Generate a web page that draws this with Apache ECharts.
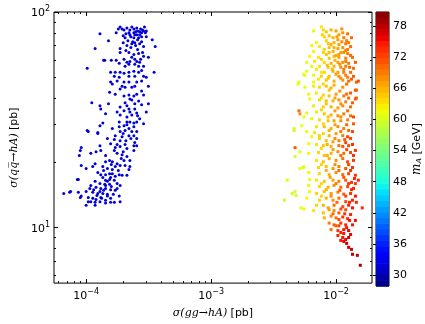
<!DOCTYPE html>
<html><head><meta charset="utf-8">
<script src="https://cdn.jsdelivr.net/npm/echarts@6/dist/echarts.min.js"></script>
<style>html,body{margin:0;padding:0;background:#fff}#c{width:425px;height:324px}</style>
</head><body><div id="c"></div>
<script>
// ---- data: [sigma(gg->hA) pb, sigma(qq->hA) pb, m_A GeV]
const lowMassPoints = [
[1.87e-4,85.3,32],[1.94e-4,83.5,32],[1.81e-4,83.5,32],[2.32e-4,85.3,32],[2.54e-4,84.4,32],[2.73e-4,83.5,32],[2.93e-4,85.3,32],
[2.68e-4,80.9,32],[2.88e-4,81.7,32],[3.03e-4,81.7,32],[2.49e-4,80.9,32],[2.41e-4,80.1,32],[2.20e-4,80.1,32],[2.08e-4,79.2,32],
[2.24e-4,78.4,32],[2.54e-4,78.4,32],[2.68e-4,78.4,32],[2.78e-4,80.1,32],[1.74e-4,80.1,32],[1.29e-4,79.2,32],[2.05e-4,76.0,32],
[2.41e-4,76.0,32],[2.63e-4,76.0,32],[3.03e-4,76.8,32],[3.38e-4,74.4,32],[1.51e-4,73.6,32],[1.98e-4,72.1,32],[2.32e-4,71.3,32],
[2.45e-4,72.1,32],[2.78e-4,72.8,32],[2.12e-4,69.9,32],[2.88e-4,69.1,32],[3.57e-4,69.1,32],[1.18e-4,67.7,32],[1.87e-4,67.7,32],
[1.87e-4,64.9,32],[2.20e-4,64.9,32],[2.41e-4,63.5,32],[2.63e-4,64.2,32],[2.88e-4,62.3,32],[3.15e-4,61.6,32],[1.41e-4,59.7,32],
[1.59e-4,59.7,32],[1.74e-4,59.7,32],[2.01e-4,60.3,32],[2.24e-4,59.0,32],[2.54e-4,59.0,32],[2.73e-4,60.3,32],[2.20e-4,57.2,32],
[2.45e-4,57.2,32],[2.63e-4,56.0,32],[2.88e-4,56.0,32],[1.84e-4,57.8,32],[2.05e-4,56.0,32],[1.02e-4,54.8,32],[1.57e-4,52.5,32],
[1.71e-4,52.5,32],[1.87e-4,52.5,32],[2.01e-4,52.0,32],[2.20e-4,52.5,32],[2.41e-4,53.1,32],[2.63e-4,52.5,32],[2.78e-4,53.6,32],
[3.50e-4,52.5,32],[1.68e-4,50.3,32],[1.84e-4,49.8,32],[2.20e-4,50.3,32],[2.45e-4,50.3,32],[2.88e-4,50.3,32],[3.03e-4,49.8,32],
[1.57e-4,47.3,32],[1.77e-4,47.8,32],[2.01e-4,47.3,32],[2.20e-4,47.3,32],[2.54e-4,47.3,32],[2.78e-4,47.8,32],[3.15e-4,45.3,32],
[1.62e-4,46.3,32],[1.94e-4,45.3,32],[2.05e-4,44.8,32],[2.32e-4,44.8,32],[2.45e-4,45.3,32],[1.87e-4,43.9,32],
[1.54e-4,42.5,32],[1.71e-4,41.6,32],[2.01e-4,40.8,32],[2.20e-4,41.2,32],[2.41e-4,40.8,32],[2.54e-4,41.6,32],[2.78e-4,43.0,32],
[2.88e-4,41.2,32],[2.24e-4,39.5,32],[2.63e-4,38.7,32],[1.11e-4,37.9,32],[1.29e-4,36.7,32],[1.51e-4,37.5,32],[1.87e-4,36.3,32],
[2.12e-4,36.7,32],[2.45e-4,37.5,32],[2.78e-4,37.1,32],[3.15e-4,37.5,32],[1.31e-4,35.5,32],[1.77e-4,34.4,32],[2.01e-4,34.8,32],
[2.24e-4,34.4,32],[2.54e-4,34.0,32],[3.03e-4,34.4,32],[1.43e-4,33.7,32],[1.87e-4,33.3,32],[2.12e-4,32.6,32],[2.68e-4,32.0,32],
[2.12e-4,30.9,32],[2.24e-4,30.9,32],[2.41e-4,30.6,32],[2.54e-4,30.9,32],[1.84e-4,30.9,32],[1.36e-4,30.6,32],[2.88e-4,30.3,32],
[1.29e-4,29.7,32],[1.84e-4,29.4,32],[2.01e-4,29.7,32],[1.62e-4,28.8,32],[1.87e-4,27.9,32],[2.05e-4,28.2,32],[2.32e-4,27.9,32],
[2.54e-4,27.9,32],[1.04e-4,27.9,32],[1.24e-4,27.3,32],[1.71e-4,26.7,32],[1.94e-4,26.4,32],[2.20e-4,26.7,32],[2.41e-4,26.7,32],
[1.48e-4,25.9,32],[1.68e-4,25.6,32],[1.87e-4,25.3,32],[2.08e-4,25.3,32],[2.54e-4,25.9,32],[1.57e-4,24.5,32],[1.77e-4,24.3,32],
[2.05e-4,24.3,32],[2.41e-4,24.0,32],[2.54e-4,24.0,32],[1.29e-4,24.0,32],[1.71e-4,23.5,32],[9.14e-5,23.5,32],
[8.98e-5,22.8,32],[1.09e-4,22.1,32],[1.20e-4,22.5,32],[1.31e-4,22.8,32],[1.43e-4,21.6,32],[1.68e-4,22.8,32],[1.77e-4,22.1,32],
[1.94e-4,21.8,32],[2.12e-4,21.4,32],[2.41e-4,22.8,32],[2.24e-4,20.5,32],[1.43e-4,20.2,32],[1.54e-4,20.5,32],[1.62e-4,20.2,32],
[1.77e-4,19.8,32],[1.87e-4,19.4,32],[2.05e-4,19.4,32],[9.14e-5,19.4,32],[1.13e-4,19.2,32],[1.36e-4,19.2,32],[1.48e-4,18.8,32],
[1.62e-4,18.6,32],[2.20e-4,18.6,32],[1.24e-4,18.0,32],[1.31e-4,17.6,32],[1.43e-4,17.6,32],[1.54e-4,17.8,32],[1.84e-4,17.6,32],
[1.94e-4,17.5,32],[8.66e-5,16.7,32],[1.36e-4,17.1,32],[1.43e-4,16.6,32],[1.54e-4,16.7,32],[1.68e-4,16.6,32],[1.18e-4,16.4,32],
[1.29e-4,16.0,32],[1.41e-4,15.9,32],[1.54e-4,15.9,32],[1.77e-4,16.0,32],[1.87e-4,15.7,32],[1.09e-4,15.7,32],[1.07e-4,15.2,32],
[1.20e-4,15.4,32],[1.31e-4,15.2,32],[1.43e-4,15.2,32],[1.57e-4,15.0,32],[1.71e-4,14.9,32],[7.51e-5,14.7,32],[8.66e-5,14.6,32],
[1.00e-4,14.7,32],[1.13e-4,14.6,32],[1.24e-4,14.4,32],[1.36e-4,14.4,32],[1.48e-4,14.3,32],[9.14e-5,14.0,32],[1.04e-4,13.8,32],
[1.13e-4,13.7,32],[1.20e-4,13.5,32],[1.31e-4,13.8,32],[1.43e-4,13.4,32],[1.57e-4,13.7,32],[1.84e-4,14.0,32],[1.04e-4,13.2,32],
[1.09e-4,13.2,32],[1.18e-4,13.1,32],[1.29e-4,13.2,32],[1.43e-4,13.0,32],[1.57e-4,13.1,32],[1.87e-4,13.2,32],[1.00e-4,12.7,32],
[1.18e-4,12.7,32],[6.62e-5,14.4,32],[7.37e-5,14.6,32],[8.51e-5,16.7,32],[8.98e-5,13.8,32],[1.00e-4,18.8,32],[1.18e-4,19.8,32],
[1.68e-4,13.1,32],[2.24e-4,19.2,32],[2.12e-4,17.5,32],[1.38e-4,59.7,32],[1.02e-4,28.2,32],[1.24e-4,27.6,32],[8.82e-5,21.6,32],
[2.12e-4,84.4,32],[2.24e-4,82.6,32],[2.41e-4,83.5,32],[2.58e-4,81.7,32],[2.83e-4,82.6,32],[2.45e-4,78.4,32],[2.28e-4,76.8,32],
[2.58e-4,74.4,32],[2.16e-4,73.6,32],[2.36e-4,72.8,32],[2.68e-4,71.3,32],[2.01e-4,82.6,32],[2.98e-4,80.1,32],[2.78e-4,76.8,32],
[1.98e-4,77.6,32],[2.49e-4,69.9,32],[2.28e-4,68.4,32],[2.08e-4,66.3,32],[2.58e-4,67.0,32],[2.83e-4,64.9,32],[2.32e-4,61.6,32],
[2.45e-4,60.3,32],[2.12e-4,58.4,32],[2.68e-4,58.4,32],[2.32e-4,39.1,32],[2.05e-4,37.9,32],[2.45e-4,35.5,32],[2.20e-4,35.5,32],
[2.58e-4,33.0,32],[2.32e-4,33.3,32],[2.12e-4,30.0,32],[2.41e-4,29.4,32],[2.20e-4,28.8,32],[1.98e-4,27.3,32],[2.28e-4,25.9,32],
[2.45e-4,24.8,32],[1.87e-4,23.8,32],[2.12e-4,23.3,32],[1.98e-4,22.5,32],[1.62e-4,17.8,32],[1.71e-4,17.3,32],[1.48e-4,16.4,32],
[1.59e-4,15.5,32],[1.77e-4,15.2,32],[1.38e-4,14.9,32],[1.48e-4,14.0,32],[1.65e-4,14.3,32],[1.33e-4,13.7,32],[1.22e-4,14.1,32],
[1.29e-4,14.7,32],[1.15e-4,15.0,32],[1.43e-4,15.7,32],[1.57e-4,17.1,32],[1.81e-4,18.4,32],[1.71e-4,19.2,32],[1.91e-4,20.9,32],
[2.01e-4,20.5,32],[1.59e-4,19.6,32],[1.38e-4,18.4,32]
];
const highMassPoints = [
[7.63e-3,85.3,63],[6.61e-3,81.7,62],[7.91e-3,82.6,64],[8.35e-3,80.9,65],[9.13e-3,82.6,66],[1.00e-2,81.7,67],[1.112e-2,83.5,68],
[1.132e-2,80.1,68],[1.238e-2,79.2,70],[1.054e-2,78.4,67],[8.81e-3,77.6,65],[8.05e-3,76.8,64],[9.46e-3,76.0,66],[1.035e-2,74.4,67],
[1.153e-2,76.0,69],[1.330e-2,76.0,70],[6.98e-3,72.1,62],[8.35e-3,73.6,64],[8.65e-3,71.3,65],[9.64e-3,72.1,66],[1.054e-2,70.6,67],
[1.195e-2,71.3,69],[1.261e-2,72.1,69],[6.38e-3,69.9,62],[7.36e-3,69.1,63],[8.81e-3,68.4,65],[1.035e-2,67.7,67],[1.132e-2,68.4,68],
[1.238e-2,67.0,69],[6.61e-3,65.6,62],[7.91e-3,64.9,64],[9.46e-3,65.6,66],[1.092e-2,64.9,67],[1.153e-2,64.9,68],[1.238e-2,64.2,69],
[8.35e-3,63.5,65],[1.00e-2,62.9,67],[1.307e-2,62.9,70],[6.15e-3,62.3,62],[7.23e-3,61.6,63],[8.81e-3,61.0,65],[9.64e-3,62.3,66],
[1.054e-2,61.6,67],[1.195e-2,61.0,69],[1.354e-2,61.6,70],[5.83e-3,58.4,61],[6.73e-3,59.0,63],[8.05e-3,58.4,64],[9.13e-3,57.8,66],
[1.035e-2,58.4,67],[1.132e-2,58.4,68],[1.261e-2,57.8,69],[1.429e-2,58.4,71],[6.38e-3,56.0,62],[7.36e-3,56.0,63],[8.65e-3,55.4,65],
[9.64e-3,56.0,66],[1.092e-2,55.4,68],[1.195e-2,56.0,69],[1.379e-2,54.8,70],[5.83e-3,53.1,61],[6.98e-3,54.2,63],[8.05e-3,52.5,64],
[9.46e-3,53.1,66],[1.035e-2,52.5,67],[1.153e-2,52.5,69],[1.307e-2,52.5,70],[5.53e-3,51.4,61],[6.61e-3,50.9,62],[7.63e-3,50.3,64],
[8.81e-3,50.3,65],[1.054e-2,50.3,68],[1.238e-2,49.8,69],[1.379e-2,50.3,71],[7.23e-3,48.8,63],[8.35e-3,48.3,65],[9.64e-3,47.8,66],
[1.132e-2,48.3,68],[1.261e-2,47.8,70],[1.508e-2,47.8,72],[5.05e-3,47.3,61],[6.61e-3,47.3,62],
[5.63e-3,44.8,61],[6.61e-3,45.3,63],[7.36e-3,44.8,64],[8.35e-3,45.3,65],[9.13e-3,44.4,66],[1.132e-2,44.8,68],[1.429e-2,43.4,71],
[6.04e-3,41.6,62],[6.98e-3,42.1,63],[7.91e-3,41.2,64],[8.81e-3,40.8,65],[1.00e-2,41.6,67],[1.153e-2,40.8,69],[1.261e-2,39.9,70],
[6.15e-3,39.5,62],[7.36e-3,39.1,64],[8.35e-3,38.7,65],[9.46e-3,38.7,66],[1.054e-2,39.1,68],[1.195e-2,38.3,69],[1.429e-2,39.5,71],
[5.05e-3,34.8,70],[5.14e-3,33.7,68],[6.61e-3,36.7,63],[7.91e-3,36.3,64],[9.13e-3,36.3,66],[1.035e-2,35.9,67],[1.132e-2,36.7,68],
[1.307e-2,36.3,70],[5.83e-3,34.0,61],[6.98e-3,34.4,63],[8.05e-3,33.7,65],[9.13e-3,33.3,66],[1.035e-2,33.0,68],[1.153e-2,33.7,69],
[1.307e-2,33.0,70],[5.53e-3,32.6,61],[6.38e-3,32.0,62],[7.36e-3,31.6,64],[8.65e-3,31.3,65],[9.64e-3,31.3,67],[1.092e-2,31.3,68],
[1.238e-2,31.6,69],[1.379e-2,30.3,71],[4.62e-3,28.8,60],[5.33e-3,29.7,61],[6.98e-3,29.4,63],[8.05e-3,29.4,65],[9.13e-3,28.8,66],
[1.035e-2,29.4,68],[1.153e-2,28.8,69],[1.261e-2,28.2,70],[5.83e-3,27.9,62],[6.73e-3,27.6,63],[7.91e-3,27.3,64],[8.81e-3,26.7,66],
[1.00e-2,27.3,67],[1.132e-2,26.7,69],[1.238e-2,26.4,72],[1.307e-2,25.9,72],[6.38e-3,26.4,62],[7.36e-3,25.9,64],[8.35e-3,25.3,65],
[9.46e-3,25.0,67],[1.054e-2,25.3,69],[1.195e-2,24.8,72],[6.04e-3,24.5,62],[6.98e-3,24.3,63],[7.91e-3,24.0,65],[9.13e-3,23.8,66],
[1.132e-2,23.8,71],[1.261e-2,24.0,72],
[5.14e-3,22.5,61],[6.04e-3,22.1,62],[7.23e-3,22.3,64],[8.05e-3,21.6,65],[9.13e-3,22.1,66],[1.035e-2,22.5,68],[1.153e-2,22.1,70],
[1.307e-2,22.3,72],[1.429e-2,22.8,73],[4.70e-3,21.4,60],[6.98e-3,20.5,63],[7.91e-3,20.2,65],[8.81e-3,20.9,66],[1.00e-2,20.5,68],
[1.132e-2,20.9,70],[1.238e-2,20.2,72],[1.379e-2,20.5,73],[5.14e-3,18.8,61],[5.53e-3,19.2,61],[7.23e-3,19.0,64],[8.35e-3,19.2,65],
[9.46e-3,18.8,67],[1.054e-2,19.2,69],[1.195e-2,18.8,71],[1.354e-2,19.0,73],[6.04e-3,18.0,62],[7.36e-3,17.8,64],[8.81e-3,17.6,66],
[1.00e-2,18.0,68],[1.132e-2,17.6,70],[1.261e-2,17.8,72],[1.429e-2,17.5,73],[4.07e-3,16.6,60],[6.15e-3,16.7,62],[6.98e-3,16.6,63],
[8.05e-3,16.4,65],[9.46e-3,16.6,67],[1.054e-2,16.4,69],[1.195e-2,16.6,71],[1.330e-2,16.2,73],[1.508e-2,16.6,74],[4.70e-3,14.7,60],
[6.04e-3,15.7,62],[7.36e-3,15.5,64],[8.65e-3,15.4,66],[9.64e-3,15.7,68],[1.092e-2,15.4,70],[1.238e-2,15.5,72],[1.379e-2,15.2,74],
[6.15e-3,14.7,62],[6.98e-3,14.4,64],[8.05e-3,14.7,65],[9.13e-3,14.4,67],[1.035e-2,14.6,69],[1.153e-2,14.3,71],[1.307e-2,14.4,73],
[3.86e-3,13.4,59],[5.83e-3,13.7,62],[7.36e-3,13.4,64],[8.35e-3,13.7,66],[9.46e-3,13.4,68],[1.054e-2,13.7,70],[1.195e-2,13.2,72],
[1.354e-2,13.4,74],[6.98e-3,12.7,64],[7.91e-3,12.7,66],[9.64e-3,12.7,70],[1.132e-2,12.5,72],[1.261e-2,12.7,74],
[5.53e-3,12.2,62],[6.61e-3,12.0,63],[7.91e-3,11.7,65],[8.81e-3,12.1,67],[9.64e-3,12.0,68],[1.054e-2,11.7,71],[1.195e-2,12.1,72],
[1.307e-2,11.5,74],[8.05e-3,11.1,66],[9.13e-3,11.3,68],[1.00e-2,11.1,70],[1.132e-2,11.2,73],[1.238e-2,11.0,74],[1.429e-2,10.8,75],
[8.81e-3,10.5,69],[9.64e-3,10.3,71],[1.092e-2,10.5,73],[1.195e-2,10.3,74],[1.354e-2,10.3,75],[9.13e-3,9.79,70],[1.035e-2,9.69,73],
[1.153e-2,9.79,75],[1.261e-2,9.69,76],[1.035e-2,9.19,74],[1.132e-2,9.00,75],[1.195e-2,8.81,76],[1.092e-2,8.72,75],[1.153e-2,8.63,76],
[1.261e-2,8.10,77],[1.330e-2,7.93,77],[1.354e-2,7.52,78],[1.481e-2,7.44,78],[1.563e-2,6.69,79],
[4.46e-3,14.4,60],[4.79e-3,14.1,60],[5.24e-3,12.35,61],[5.43e-3,19.0,61],[1.620e-2,12.35,74],[1.455e-2,13.1,74],[1.429e-2,16.0,73],
[4.62e-3,28.2,60],[4.70e-3,23.5,71],[4.96e-3,46.3,61],[5.63e-3,50.9,61],[1.455e-2,47.3,71],[1.455e-2,43.4,71],[1.455e-2,39.9,71],
[7.77e-3,78.4,64],[1.017e-2,76.8,67],[1.216e-2,73.6,69],[9.13e-3,70.6,66],[1.112e-2,72.8,68],[8.05e-3,67.0,64],[9.64e-3,68.4,66],
[1.195e-2,66.3,69],[1.054e-2,63.5,67],[8.81e-3,64.9,65],[1.307e-2,69.1,70],[7.63e-3,60.3,64],[9.81e-3,59.7,66],[1.195e-2,59.0,69],
[8.50e-3,56.6,65],[1.073e-2,57.2,68],[1.284e-2,55.4,70],[9.30e-3,54.2,66],[1.153e-2,54.2,69],[7.63e-3,52.5,63],[1.00e-2,51.4,67],
[1.195e-2,50.9,69],[8.65e-3,49.3,65],[1.092e-2,49.3,68],[1.330e-2,48.8,71],[7.91e-3,46.3,64],[9.64e-3,45.8,66],[1.216e-2,46.3,70],
[8.81e-3,43.4,65],[1.073e-2,43.0,68],[1.307e-2,42.1,71],[7.63e-3,39.9,64],[9.81e-3,39.9,67],[1.216e-2,41.6,70],[8.35e-3,37.5,65],
[1.092e-2,37.5,68],[1.354e-2,37.9,71],[7.63e-3,35.2,64],[9.81e-3,34.8,67],[1.238e-2,34.8,70],[8.65e-3,32.6,65],[1.092e-2,32.6,68],
[1.379e-2,32.6,72],[7.91e-3,30.3,64],[9.81e-3,30.0,67],[1.216e-2,30.0,70],[8.81e-3,28.2,66],[1.092e-2,27.9,69],[1.354e-2,27.9,72],
[7.36e-3,26.7,64],[9.81e-3,25.9,68],[1.173e-2,25.6,71],[8.50e-3,24.3,66],[1.054e-2,24.0,70],[1.354e-2,24.3,73],[7.63e-3,23.3,64],
[9.46e-3,23.0,67],[1.216e-2,23.0,72],[8.50e-3,21.6,66],[1.092e-2,21.6,70],[1.379e-2,21.6,73],[7.63e-3,19.6,64],[9.81e-3,19.6,68],
[1.261e-2,19.6,72],[8.35e-3,18.4,66],[1.054e-2,18.4,70],[1.307e-2,18.4,73],[8.97e-3,17.1,67],[1.153e-2,17.1,71],[1.404e-2,16.9,74],
[7.63e-3,16.0,64],[1.00e-2,16.0,69],[1.261e-2,16.0,73],[8.35e-3,15.0,66],[1.073e-2,14.9,71],[1.330e-2,15.0,74],[9.13e-3,14.0,68],
[1.195e-2,14.0,72],[1.429e-2,14.0,75],[7.63e-3,14.0,64],[1.017e-2,13.1,70],[1.284e-2,13.1,74],[8.65e-3,12.35,67],[1.092e-2,12.2,72],
[1.354e-2,12.35,75],[9.46e-3,11.6,70],[1.173e-2,11.6,73],[1.054e-2,10.9,72],[1.284e-2,10.8,75],[1.00e-2,10.2,71],[1.216e-2,10.0,75],
[1.092e-2,9.49,74],[1.307e-2,9.29,76],[1.054e-2,10.2,72],[1.153e-2,9.39,75],[1.261e-2,9.00,77],[1.216e-2,8.45,77]
];
const xMajorTicks = [1e-4, 1e-3, 1e-2];
const xMinorTicks = [6e-5,7e-5,8e-5,9e-5,2e-4,3e-4,4e-4,5e-4,6e-4,7e-4,8e-4,9e-4,2e-3,3e-3,4e-3,5e-3,6e-3,7e-3,8e-3,9e-3];
const yMajorTicks = [10, 100];
const yMinorTicks = [6,7,8,9,20,30,40,50,60,70,80,90];
const massTicks = [30,36,42,48,54,60,66,72,78];
const X_RANGE = [5.53e-5, 1.94e-2];
const Y_RANGE = [5.53, 100];
const M_RANGE = [27.9, 80.7];

// ---- jet colormap
const JET = {
  r: [[0,0],[0.35,0],[0.66,1],[0.89,1],[1,0.5]],
  g: [[0,0],[0.125,0],[0.375,1],[0.64,1],[0.91,0],[1,0]],
  b: [[0,0.5],[0.11,1],[0.34,1],[0.65,0],[1,0]]
};
function seg(p, t){ for(let i=1;i<p.length;i++){ if(t<=p[i][0]){ const a=p[i-1],b=p[i]; return a[1]+(b[1]-a[1])*(t-a[0])/(b[0]-a[0]); } } return p[p.length-1][1]; }
function jet(t){ t=Math.max(0,Math.min(1,t)); const c=k=>Math.round(255*seg(JET[k],t)); return 'rgb('+c('r')+','+c('g')+','+c('b')+')'; }
const jetStops = []; for(let i=0;i<=64;i++) jetStops.push(jet(i/64));
const bands = []; for(let v=M_RANGE[0]; v<M_RANGE[1]-1e-9; v+=1.1) bands.push([v, Math.min(v+1.1, M_RANGE[1])]);

const F = 'DejaVu Sans';
const sup = v => { const e = Math.round(Math.log10(v)); return '{b|10}{s|' + (e<0?'\u2212'+(-e):e) + '}'; };
const labRich = { b:{fontSize:11, fontFamily:F, color:'#000', verticalAlign:'bottom', lineHeight:14}, s:{fontSize:8, fontFamily:F, color:'#000', verticalAlign:'top', lineHeight:14, padding:[0,0,5,0]} };

function logAxis(kind, pos, ticks, len, labels, extra){
  const range = kind==='x' ? X_RANGE : Y_RANGE;
  const o = { type:'log', logBase:10, gridIndex:0, position:pos, min:range[0], max:range[1],
    axisLine:{show:false}, splitLine:{show:false}, minorTick:{show:false},
    axisTick:{show:true, inside:true, length:len, customValues:ticks, lineStyle:{color:'#000', width:1}},
    axisLabel:{show:labels, customValues:ticks, formatter:sup, rich:labRich, margin: kind==='x'?5:4},
    silent:true };
  return Object.assign(o, extra||{});
}

const chart = echarts.init(document.getElementById('c'), null, {renderer:'canvas'});
chart.setOption({
  animation:false,
  backgroundColor:'#fff',
  grid:[
    {left:45, top:12, width:327, height:274, show:true, borderColor:'#000', borderWidth:1, backgroundColor:'transparent'},
    {left:376, top:12, width:13, height:274, show:true, borderColor:'#000', borderWidth:1, backgroundColor:'transparent'}
  ],
  xAxis:[
    logAxis('x','bottom',xMajorTicks,4,true,{
      name:'{i|\u03c3(gg\u2192hA)} {r|[pb]}', nameLocation:'middle', nameGap:20,
      nameTextStyle:{rich:{i:{fontFamily:'DejaVu Serif', fontStyle:'italic', fontSize:11, color:'#000'}, r:{fontFamily:F, fontSize:11, color:'#000'}}}
    }),
    logAxis('x','bottom',xMinorTicks,2,false),
    logAxis('x','top',xMajorTicks,4,false),
    logAxis('x','top',xMinorTicks,2,false),
    {type:'value', gridIndex:1, min:0, max:1, show:false}
  ],
  yAxis:[
    logAxis('y','left',yMajorTicks,4,true,{
      name:'{i|\u03c3(qq\u0305\u2192hA)} {r|[pb]}', nameLocation:'middle', nameGap:30,
      nameTextStyle:{rich:{i:{fontFamily:'DejaVu Serif', fontStyle:'italic', fontSize:11, color:'#000'}, r:{fontFamily:F, fontSize:11, color:'#000'}}}
    }),
    logAxis('y','left',yMinorTicks,2,false),
    logAxis('y','right',yMajorTicks,4,false),
    logAxis('y','right',yMinorTicks,2,false),
    {type:'value', gridIndex:1, position:'right', min:M_RANGE[0], max:M_RANGE[1],
     axisLine:{show:false}, splitLine:{show:false},
     axisTick:{show:true, inside:true, length:3, customValues:massTicks, lineStyle:{color:'#000'}},
     axisLabel:{show:true, customValues:massTicks, margin:4, fontSize:11, fontFamily:F, color:'#000'},
     name:'{i|m}{s|A} {r|[GeV]}', nameLocation:'middle', nameGap:22, nameRotate:90,
     nameTextStyle:{rich:{i:{fontFamily:'DejaVu Serif', fontStyle:'italic', fontSize:12, color:'#000'}, s:{fontFamily:'DejaVu Serif', fontStyle:'italic', fontSize:8, color:'#000', verticalAlign:'bottom', padding:[4,0,0,0]}, r:{fontFamily:F, fontSize:11, color:'#000'}}}
    }
  ],
  visualMap:{type:'continuous', show:false, min:M_RANGE[0], max:M_RANGE[1], dimension:2, seriesIndex:[0,1], inRange:{color:jetStops}},
  series:[
    {type:'scatter', xAxisIndex:0, yAxisIndex:0, data:lowMassPoints, symbol:'circle', symbolSize:3, itemStyle:{opacity:1}},
    {type:'scatter', xAxisIndex:0, yAxisIndex:0, data:highMassPoints, symbol:'rect', symbolSize:3, itemStyle:{opacity:1}},
    {type:'custom', xAxisIndex:4, yAxisIndex:4, data:bands, silent:true,
     renderItem:(params, api)=>{
       const lo=api.value(0), hi=api.value(1);
       const a=api.coord([0,hi]), b=api.coord([1,lo]);
       return {type:'rect', shape:{x:a[0], y:a[1], width:b[0]-a[0], height:b[1]-a[1]+0.6},
         style:{fill: jet(((lo+hi)/2 - M_RANGE[0])/(M_RANGE[1]-M_RANGE[0]))}};
     }}
  ]
});
</script></body></html>
